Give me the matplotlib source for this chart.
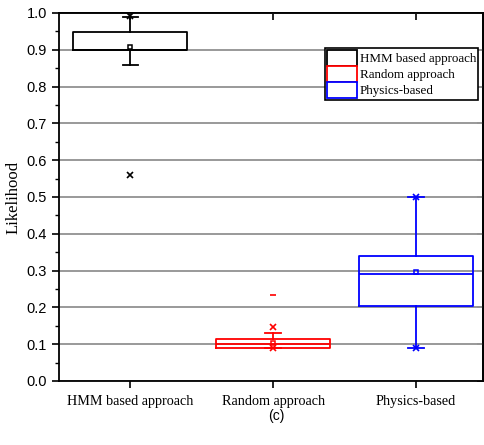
import matplotlib
matplotlib.use("Agg")
import matplotlib.pyplot as plt
from matplotlib.patches import Patch

categories = ["HMM based approach", "Random approach", "Physics-based"]
colors = ["black", "red", "blue"]
q1 = [0.900, 0.091, 0.203]
med = [0.900, 0.100, 0.290]
q3 = [0.948, 0.113, 0.339]
whislo = [0.860, 0.091, 0.091]
whishi = [0.990, 0.131, 0.500]
means = [0.907, 0.104, 0.297]
x_marks = [[0.992, 0.560], [0.146, 0.091], [0.500, 0.091]]
dash_marks = [[], [0.233], []]
yticks = [0.0, 0.1, 0.2, 0.3, 0.4, 0.5, 0.6, 0.7, 0.8, 0.9, 1.0]

fig = plt.figure(figsize=(4.84, 4.45), dpi=100)
ax = fig.add_axes([59/484, 1-381/445, 424/484, 368/445])

serif = "Liberation Serif"
sans = "Liberation Sans"

ax.set_ylim(0, 1.0)
ax.set_xlim(0.5, 3.47)
ax.set_yticks(yticks)
ax.set_yticks([v + 0.05 for v in yticks[:-1]], minor=True)
ax.grid(axis="y", which="major", color="#999999", linewidth=1.4, zorder=0)
ax.set_axisbelow(True)

for i, cat in enumerate(categories):
    pos = i + 1
    st = dict(q1=q1[i], med=med[i], q3=q3[i], whislo=whislo[i], whishi=whishi[i],
              mean=means[i], fliers=[], label=cat)
    c = colors[i]
    ax.bxp([st], positions=[pos], widths=0.8, showmeans=True, showfliers=False,
           boxprops=dict(color=c, linewidth=1.3),
           medianprops=dict(color=c, linewidth=1.3),
           whiskerprops=dict(color=c, linewidth=1.3),
           capprops=dict(color=c, linewidth=1.3),
           capwidths=0.11,
           meanprops=dict(marker="s", markerfacecolor="none", markeredgecolor=c,
                          markersize=3.5, markeredgewidth=1.1),
           manage_ticks=False)
    ax.plot([pos]*len(x_marks[i]), x_marks[i], linestyle="none", marker="x",
            color=c, markersize=4, markeredgewidth=1.2, zorder=5)
    if dash_marks[i]:
        ax.plot([pos]*len(dash_marks[i]), dash_marks[i], linestyle="none", marker="_",
                color=c, markersize=4, markeredgewidth=1.2, zorder=5)

ax.set_xticks([1, 2, 3])
ax.set_xticklabels(categories, fontfamily=serif, fontsize=10.2)
ax.set_yticklabels([f"{v:.1f}" for v in yticks], fontfamily=sans, fontsize=10.5)
ax.tick_params(axis="y", which="major", direction="out", length=5, width=1.2)
ax.tick_params(axis="y", which="minor", direction="out", length=3, width=1.0)
ax.tick_params(axis="x", which="major", direction="out", length=5, width=1.2, pad=5)
for s in ax.spines.values():
    s.set_linewidth(1.3)
    s.set_color("black")

top = ax.secondary_xaxis("top")
top.set_xticks([1, 2, 3])
top.set_xticklabels([])
top.tick_params(direction="in", length=5, width=1.2)
top.spines["top"].set_linewidth(1.3)
right = ax.secondary_yaxis("right")
right.set_yticks(yticks)
right.set_yticklabels([])
right.tick_params(direction="in", length=4, width=1.2)
right.spines["right"].set_linewidth(1.3)

ax.set_ylabel("Likelihood", fontfamily=serif, fontsize=12, labelpad=4)

handles = [Patch(facecolor="white", edgecolor=c, linewidth=1.3) for c in colors]
leg = ax.legend(handles, categories, loc="upper right", bbox_to_anchor=(0.988, 0.905),
                prop={"family": serif, "size": 9.4}, frameon=True, fancybox=False,
                edgecolor="black", framealpha=1, borderpad=0.15, handlelength=2.3,
                handleheight=1.5, handletextpad=0.2, labelspacing=0.0, borderaxespad=0)
leg.get_frame().set_linewidth(1.2)

fig.text(276/484, 1-416/445, "(c)", fontfamily=sans, fontsize=10, ha="center", va="center")

fig.savefig("out.png", dpi=100)
